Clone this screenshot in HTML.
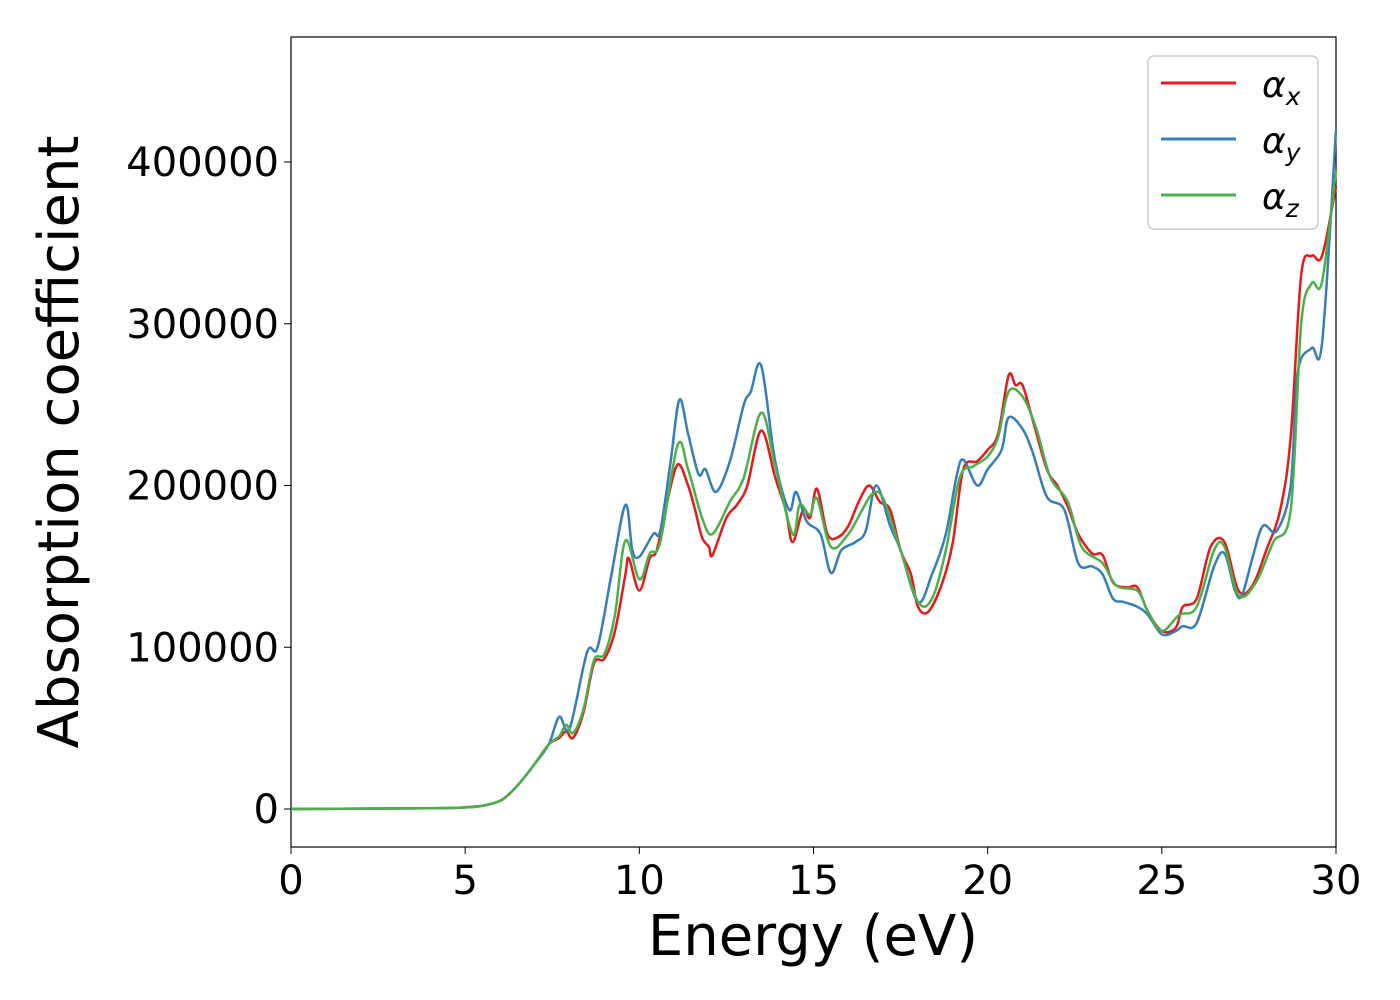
<!DOCTYPE html>
<html><head><meta charset="utf-8"><style>
body{margin:0;background:#fff}
svg{display:block;font-family:"DejaVu Sans","Liberation Sans",sans-serif}
</style></head><body>
<svg id="chart" width="1400" height="1000">
<rect x="291" y="37" width="1045" height="810" fill="#fff" stroke="#000" stroke-width="1.2"/>
<g id="ticks"></g>
<g id="series"></g>
<text x="813" y="955" font-size="56" text-anchor="middle">Energy (eV)</text>
<text transform="translate(78,442) rotate(-90)" font-size="56" text-anchor="middle">Absorption coefficient</text>
<g>
<rect x="1148" y="56" width="170" height="173" rx="6" fill="#fff" stroke="#ccc" stroke-width="1.5"/>
<line x1="1161" y1="83" x2="1236" y2="83" stroke="#e41a1c" stroke-width="3"/>
<text x="1262" y="97" font-size="36" font-style="italic">α<tspan font-size="25" dy="8">x</tspan></text>
<line x1="1161" y1="139" x2="1236" y2="139" stroke="#377eb8" stroke-width="3"/>
<text x="1262" y="153" font-size="36" font-style="italic">α<tspan font-size="25" dy="8">y</tspan></text>
<line x1="1161" y1="195" x2="1236" y2="195" stroke="#4daf4a" stroke-width="3"/>
<text x="1262" y="209" font-size="36" font-style="italic">α<tspan font-size="25" dy="8">z</tspan></text>
</g>
</svg>
<script>
const xTicks=[0,5,10,15,20,25,30];
const yTicks=[0,100000,200000,300000,400000];
const xE=[0,4,5,5.5,6,6.3,6.6,7,7.4,7.7,7.9,8.1,8.4,8.7,9,9.3,9.6,9.7,10,10.3,10.5,10.8,11.1,11.4,11.6,11.8,12,12.1,12.5,12.8,13.1,13.5,13.9,14.2,14.4,14.7,14.9,15.1,15.4,15.7,16,16.3,16.6,16.9,17.2,17.5,17.8,18,18.3,18.7,19,19.3,19.7,20,20.3,20.6,20.8,21,21.3,21.7,22,22.3,22.6,23,23.3,23.6,24,24.3,24.6,25,25.4,25.6,26,26.4,26.8,27.2,27.6,28,28.4,28.7,29,29.3,29.6,30];
const xV=[0,0.5,1,2,5,10,17,28,40,44,48,44,60,90,93,110,145,155,135,155,160,190,213,200,185,168,162,157,180,188,200,234,205,185,165,185,180,198,170,168,175,190,200,190,185,160,145,125,122,140,165,210,215,222,232,268,262,262,240,210,200,187,170,158,157,140,137,137,122,110,112,125,130,162,165,135,138,160,185,230,330,342,342,385];
const yE=[0,4,5,5.5,6,6.3,6.6,7,7.4,7.7,8,8.5,8.8,9.2,9.6,9.8,10,10.4,10.6,10.9,11.15,11.4,11.7,11.9,12.2,12.6,13,13.2,13.5,13.9,14.3,14.5,14.8,15.2,15.5,15.8,16.2,16.5,16.8,17.2,17.5,18,18.4,18.8,19.1,19.3,19.7,20,20.4,20.6,21,21.3,21.7,22.2,22.6,23,23.3,23.6,23.9,24.3,24.6,25,25.4,25.6,26,26.5,26.8,27.1,27.3,27.6,27.9,28.3,28.7,28.9,29.3,29.6,30];
const yV=[0,0.5,1,2,5,10,17,28,40,57,50,97,100,145,188,160,156,170,172,215,253,232,207,210,196,215,250,258,274,215,185,196,178,170,146,160,165,172,200,175,160,128,145,170,205,216,200,210,222,242,235,220,193,185,152,150,145,130,128,125,120,108,110,113,115,150,158,135,132,155,175,172,200,270,285,288,420];
const zE=[0,4,5,5.5,6,6.3,6.6,7,7.4,7.7,7.9,8.1,8.4,8.7,9,9.3,9.6,10,10.3,10.6,11.1,11.4,11.8,12.1,12.6,13,13.5,13.9,14.4,14.6,14.9,15.1,15.5,16,16.4,16.7,17,17.5,18,18.4,18.8,19.2,19.6,20,20.3,20.6,21,21.4,21.8,22.3,22.7,23.3,23.7,24.3,24.6,25,25.5,26,26.5,26.8,27.2,27.7,28.2,28.7,29,29.3,29.6,30];
const zV=[0,0.5,1,2,5,10,17,28,40,45,52,47,62,92,96,120,166,142,158,165,225,210,180,170,190,205,245,212,170,188,182,192,162,170,185,195,192,160,128,130,160,205,212,218,230,258,255,235,205,190,162,152,138,135,122,110,120,125,160,162,132,140,165,185,300,325,326,395];
const X=v=>291+v*1045/30, Y=v=>809-v*647/400000;
const NS='http://www.w3.org/2000/svg';
const tg=document.getElementById('ticks');
xTicks.forEach(t=>{
 const l=document.createElementNS(NS,'line');
 l.setAttribute('x1',X(t));l.setAttribute('x2',X(t));l.setAttribute('y1',847);l.setAttribute('y2',854);l.setAttribute('stroke','#000');
 
 
 tg.appendChild(l);
 const s=document.createElementNS(NS,'text');
 s.setAttribute('x',X(t));s.setAttribute('y',894);s.setAttribute('font-size','40');s.setAttribute('text-anchor','middle');s.textContent=t;
 
 
 tg.appendChild(s);
});
yTicks.forEach(t=>{
 const l=document.createElementNS(NS,'line');
 l.setAttribute('x1',284);l.setAttribute('x2',291);l.setAttribute('y1',Y(t));l.setAttribute('y2',Y(t));l.setAttribute('stroke','#000');
 
 
 tg.appendChild(l);
 const s=document.createElementNS(NS,'text');
 s.setAttribute('x',279);s.setAttribute('y',Y(t)+14);s.setAttribute('font-size','40');s.setAttribute('text-anchor','end');s.textContent=t;
 
 
 tg.appendChild(s);
});
function pathFor(E,V){
 const p=E.map((e,i)=>[X(e),Y(V[i]*1000)]);
 let d='M'+p[0][0]+','+p[0][1];
 for(let i=0;i<p.length-1;i++){
  const p0=p[Math.max(0,i-1)],p1=p[i],p2=p[i+1],p3=p[Math.min(p.length-1,i+2)];
  const c1=[p1[0]+(p2[0]-p0[0])/6,p1[1]+(p2[1]-p0[1])/6];
  const c2=[p2[0]-(p3[0]-p1[0])/6,p2[1]-(p3[1]-p1[1])/6];
  d+=' C'+c1+' '+c2+' '+p2;
 }
 return d;
}
const sg=document.getElementById('series');
[[xE,xV,'#e41a1c','series-alpha-x'],[yE,yV,'#377eb8','series-alpha-y'],[zE,zV,'#4daf4a','series-alpha-z']].forEach(s=>{
 const pa=document.createElementNS(NS,'path');
 pa.setAttribute('d',pathFor(s[0],s[1]));pa.setAttribute('fill','none');pa.setAttribute('stroke',s[2]);pa.setAttribute('stroke-width','2.5');
 
 
 sg.appendChild(pa);
});
</script>
</body></html>
